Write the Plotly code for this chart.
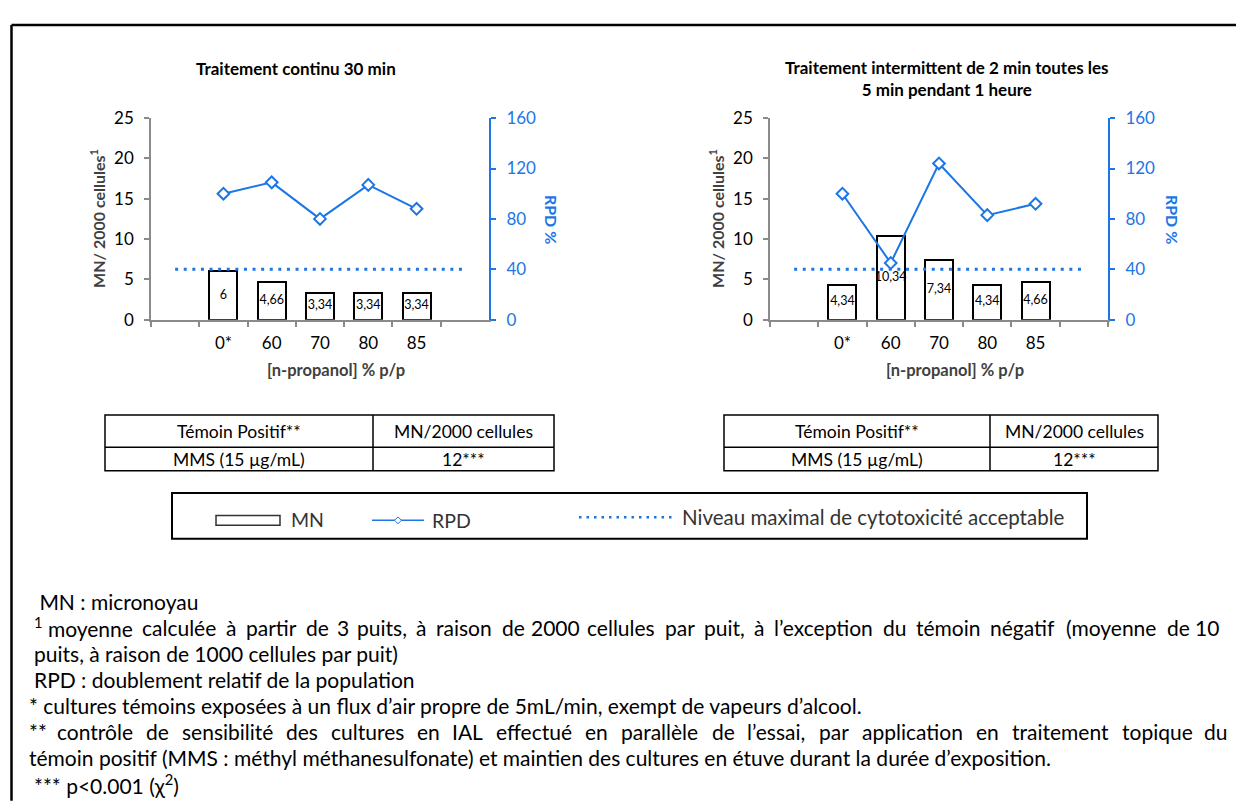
import plotly.graph_objects as go

W, H = 1236, 801

# ---------------- data ----------------
CONCENTRATIONS = ["0*", "60", "70", "80", "85"]
MN_CONTINU = [6, 4.66, 3.34, 3.34, 3.34]
RPD_CONTINU = [100, 109, 80, 107, 88]
MN_INTERMITTENT = [4.34, 10.34, 7.34, 4.34, 4.66]
RPD_INTERMITTENT = [100, 45, 124, 83, 92]
RPD_SEUIL = 40  # niveau maximal de cytotoxicité acceptable
MN_TICKS = [0, 5, 10, 15, 20, 25]
RPD_TICKS = [0, 40, 80, 120, 160]
TABLE_HEADER = ["Témoin Positif**", "MN/2000 cellules"]
TABLE_ROW = ["MMS (15 µg/mL)", "12***"]
TITLE_CONTINU = "Traitement continu 30 min"
TITLE_INTERMITTENT = "Traitement intermittent de 2 min toutes les<br>5 min pendant 1 heure"
# (left x, text, justified to right edge / natural width or None)
NOTES = [
    (32, " MN : micronoyau", None),
    (32, "<sup>1</sup> moyenne calculée à partir de 3 puits, à raison de 2000 cellules par puit, à l’exception du témoin négatif (moyenne de 10", (1221, 1108)),
    (32, "puits, à raison de 1000 cellules par puit)", None),
    (32, "RPD : doublement relatif de la population", None),
    (27, "* cultures témoins exposées à un flux d’air propre de 5mL/min, exempt de vapeurs d’alcool.", None),
    (27, "** contrôle de sensibilité des cultures en IAL effectué en parallèle de l’essai, par application en traitement topique du", (1229, 1064)),
    (27, "témoin positif (MMS : méthyl méthanesulfonate) et maintien des cultures en étuve durant la durée d’exposition.", None),
    (32, "*** p&lt;0.001 (χ<sup>2</sup>)", None),
]

# empty slots on each side of the concentration axis
PAD_L, PAD_R = " ", "  "
CATS = [PAD_L] + CONCENTRATIONS + [PAD_R]

FONT = "Lato, 'Open Sans', sans-serif"
BLUE = "#1C76E6"
GRAY = "#8A8A8A"
DARK = "#404040"


def X(px):
    return px / W


def Y(py):
    return 1 - py / H


def fmt(v):
    return f"{v:g}".replace(".", ",")


PLOT_TOP, PLOT_BOTTOM = 110, 317
PANELS = [
    dict(x0=151, x1=489, mn=MN_CONTINU, rpd=RPD_CONTINU, xa="x", ya="y", ya2="y2"),
    dict(x0=770, x1=1108, mn=MN_INTERMITTENT, rpd=RPD_INTERMITTENT, xa="x2", ya="y3", ya2="y4"),
]

fig = go.Figure()

for p in PANELS:
    fig.add_trace(go.Bar(
        x=CONCENTRATIONS, y=p["mn"], xaxis=p["xa"], yaxis=p["ya"], width=0.58,
        marker=dict(color="white", line=dict(color="black", width=2)),
        showlegend=False, hoverinfo="skip",
    ))
    fig.add_trace(go.Scatter(
        x=CONCENTRATIONS, y=[v / 2 for v in p["mn"]], xaxis=p["xa"], yaxis=p["ya"],
        mode="text", text=[fmt(v) for v in p["mn"]],
        textfont=dict(family=FONT, size=12.5, color="black"),
        showlegend=False, hoverinfo="skip", cliponaxis=False,
    ))
    fig.add_trace(go.Scatter(
        x=[PAD_L, PAD_R], y=[RPD_SEUIL, RPD_SEUIL], xaxis=p["xa"], yaxis=p["ya2"],
        mode="lines", line=dict(color=BLUE, width=3, dash="3px,5.6px"),
        showlegend=False, hoverinfo="skip",
    ))
    fig.add_trace(go.Scatter(
        x=CONCENTRATIONS, y=p["rpd"], xaxis=p["xa"], yaxis=p["ya2"],
        mode="lines+markers", line=dict(color=BLUE, width=2),
        marker=dict(symbol="diamond", size=9, color="white", line=dict(color=BLUE, width=2)),
        showlegend=False, hoverinfo="skip", cliponaxis=False,
    ))

ydom = [Y(PLOT_BOTTOM), Y(PLOT_TOP)]
TICKFONT = 17


def xaxis_cfg(p, anchor):
    return dict(
        domain=[X(p["x0"]), X(p["x1"])], anchor=anchor, type="category",
        categoryorder="array", categoryarray=CATS, range=[-0.5, 6.5],
        tickson="boundaries", ticks="outside", ticklen=6, tickcolor=GRAY, tickwidth=1.5,
        showline=True, linecolor=GRAY, linewidth=1.5, showgrid=False, zeroline=False,
        tickfont=dict(family=FONT, size=TICKFONT, color="black"), ticklabelstandoff=7,
    )


def ymn_cfg(anchor):
    return dict(
        domain=ydom, anchor=anchor, range=[0, 25], tickvals=MN_TICKS,
        ticks="outside", ticklen=5, tickcolor=GRAY, tickwidth=1.5,
        showline=True, linecolor=GRAY, linewidth=1.5, showgrid=False, zeroline=False,
        tickfont=dict(family=FONT, size=TICKFONT, color="black"), ticklabelstandoff=7,
    )


def yrpd_cfg(anchor, over):
    return dict(
        overlaying=over, side="right", anchor=anchor, range=[0, 160], tickvals=RPD_TICKS,
        ticks="outside", ticklen=5, tickcolor=BLUE, tickwidth=2,
        showline=True, linecolor=BLUE, linewidth=2, showgrid=False, zeroline=False,
        tickfont=dict(family=FONT, size=TICKFONT, color=BLUE), ticklabelstandoff=7,
    )


fig.update_layout(
    width=W, height=H, autosize=False,
    margin=dict(l=0, r=0, t=0, b=0),
    paper_bgcolor="white", plot_bgcolor="rgba(0,0,0,0)",
    showlegend=False, bargap=0,
    xaxis=xaxis_cfg(PANELS[0], "y"),
    yaxis=ymn_cfg("x"),
    yaxis2=yrpd_cfg("x", "y"),
    xaxis2=xaxis_cfg(PANELS[1], "y3"),
    yaxis3=ymn_cfg("x2"),
    yaxis4=yrpd_cfg("x2", "y3"),
)

ann = []
shapes = []


def text(x, y, s, size, color="black", xanchor="center", angle=0, family=FONT):
    ann.append(dict(
        x=X(x), y=Y(y), xref="paper", yref="paper", text=s, showarrow=False,
        xanchor=xanchor, yanchor="middle", textangle=angle,
        font=dict(family=family, size=size, color=color),
    ))


def line(x0, y0, x1, y1, color="black", width=1.5, dash=None):
    shapes.append(dict(
        type="line", xref="paper", yref="paper", x0=X(x0), y0=Y(y0), x1=X(x1), y1=Y(y1),
        line=dict(color=color, width=width, dash=dash),
    ))


def rect(x0, y0, x1, y1, color="black", width=1.5, fill="rgba(0,0,0,0)"):
    shapes.append(dict(
        type="rect", xref="paper", yref="paper", x0=X(x0), y0=Y(y0), x1=X(x1), y1=Y(y1),
        line=dict(color=color, width=width), fillcolor=fill,
    ))


# outer frame (top and left edges)
line(11.5, H + 10, 11.5, 14.5, width=2.5)
line(11.5, 14.5, W + 10, 14.5, width=2.5)

# panel titles
text(296, 59, f"<b>{TITLE_CONTINU}</b>", 17)
text(947, 69, f"<b>{TITLE_INTERMITTENT}</b>", 17)

# axis titles
mid = (PLOT_TOP + PLOT_BOTTOM) / 2
for p, ytx, rtx, xtx in [(PANELS[0], 98, 551, 336), (PANELS[1], 717, 1172, 955)]:
    text(ytx, mid, "<b>MN/ 2000 cellules<sup>1</sup></b>", 16, DARK, angle=-90)
    text(rtx, mid, "<b>RPD %</b>", 16, BLUE, angle=90)
    text(xtx, 369, "<b>[n-propanol] % p/p</b>", 16.5, DARK)

# positive control tables
for x0, xm, x1 in [(105, 373, 554), (724, 990, 1158)]:
    rect(x0, 415, x1, 472, width=1.5)
    line(x0, 448, x1, 448, width=1.5)
    line(xm, 415, xm, 472, width=1.5)
    text((x0 + xm) / 2, 432, TABLE_HEADER[0], 17.5)
    text((xm + x1) / 2, 432, TABLE_HEADER[1], 17.5)
    text((x0 + xm) / 2, 461, TABLE_ROW[0], 17.5)
    text((xm + x1) / 2, 461, TABLE_ROW[1], 17.5)

# legend box
LEG = "#333333"
rect(172, 495, 1087, 542, width=2)
rect(216, 518, 280, 528, color=LEG, width=1.5, fill="white")
text(289, 522, "MN", 19.5, LEG, xanchor="left")
line(372, 523, 424, 523, color=BLUE, width=1.5)
shapes.append(dict(
    type="path", xref="paper", yref="paper",
    path=f"M {X(398 - 3.5)} {Y(523)} L {X(398)} {Y(519.5)} L {X(398 + 3.5)} {Y(523)} L {X(398)} {Y(526.5)} Z",
    line=dict(color=BLUE, width=1), fillcolor="white",
))
text(430, 523, "RPD", 19.5, LEG, xanchor="left")
line(579, 520, 674, 520, color=BLUE, width=2.5, dash="2.5px,5px")
text(680, 520, "Niveau maximal de cytotoxicité acceptable", 20.5, LEG, xanchor="left")

# ---- footnotes ----
NOTE_SIZE = 21
# approximate advance widths (em) of the note font, to spread words of a justified line
ADV = {
    " ": 0.193, "a": 0.509, "à": 0.509, "b": 0.554, "c": 0.455, "d": 0.554, "e": 0.517,
    "é": 0.517, "è": 0.517, "f": 0.338, "g": 0.5, "h": 0.55, "i": 0.235, "l": 0.235,
    "m": 0.823, "n": 0.55, "o": 0.554, "ô": 0.554, "p": 0.545, "r": 0.385, "s": 0.42,
    "t": 0.353, "u": 0.55, "v": 0.5, "y": 0.5, "x": 0.49, "I": 0.28, "A": 0.675,
    "L": 0.475, "*": 0.4, "’": 0.2, ",": 0.2, "(": 0.3, ")": 0.3,
}


def adv(word):
    total = 0.0
    if word.startswith("<sup>"):
        end = word.index("</sup>") + len("</sup>")
        total += 0.4
        word = word[end:]
    return total + sum(ADV.get(c, 0.52) for c in word)


for i, (x, s, just) in enumerate(NOTES):
    y = 606 + i * 26.8
    if just is None:
        text(x, y, s, NOTE_SIZE, "black", xanchor="left")
        continue
    right, natural = just
    words = s.split(" ")
    if words[0].startswith("<sup>"):
        # keep a footnote mark with the word that follows it
        words = [words[0] + " " + words[1]] + words[2:]
    scale = natural / sum(adv(w) + (ADV[" "] if k else 0) for k, w in enumerate(words))
    widths = [adv(w) * scale for w in words]
    gap = (right - x - sum(widths)) / (len(words) - 1)
    cur = x
    for j, (w, wd) in enumerate(zip(words, widths)):
        if j == 0:
            text(x, y, w, NOTE_SIZE, "black", xanchor="left")
        elif j == len(words) - 1:
            text(right, y, w, NOTE_SIZE, "black", xanchor="right")
        else:
            text(cur + wd / 2, y, w, NOTE_SIZE, "black", xanchor="center")
        cur += wd + gap

fig.update_layout(annotations=ann, shapes=shapes)
fig.write_html("out.html")
